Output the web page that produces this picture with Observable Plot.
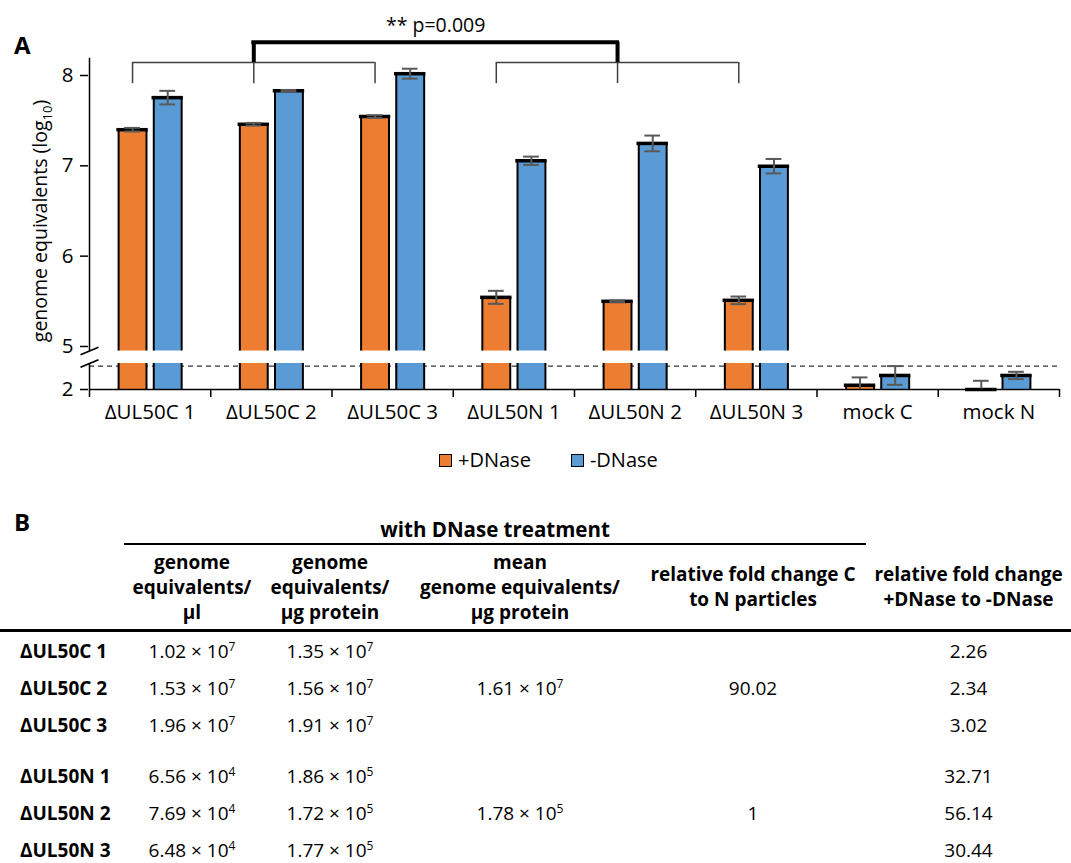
<!DOCTYPE html>
<html><head><meta charset="utf-8">
<script src="https://cdn.jsdelivr.net/npm/d3@7"></script>
<script src="https://cdn.jsdelivr.net/npm/@observablehq/plot@0.6"></script>
<style>
body{margin:0;background:#fff;font-family:"Open Sans",Lato,sans-serif;color:#000;}
#wrap{position:relative;width:1071px;height:863px;overflow:hidden;}
#chart{position:absolute;left:0;top:0;}
.panel{position:absolute;font-weight:bold;font-size:24px;line-height:28px;}
#ylab{position:absolute;left:-140px;top:207px;width:360px;height:28px;line-height:28px;text-align:center;font-size:19.5px;transform:rotate(-90deg);transform-origin:50% 50%;white-space:nowrap;}
#ylab sub{font-size:13px;vertical-align:-5px;line-height:0;}
#legend{position:absolute;left:439px;top:447px;display:flex;align-items:center;font-size:20px;line-height:26px;}
#legend .sw{display:inline-block;width:11px;height:11px;border:1.5px solid #000;margin-right:6px;}
#legend .item{display:flex;align-items:center;margin-right:40px;}
table{position:absolute;left:0;top:508px;width:1071px;border-collapse:collapse;table-layout:fixed;font-size:19px;}
td,th{padding:0;text-align:center;vertical-align:middle;}
th{font-weight:bold;line-height:25px;}
tr.grp th{height:32px;vertical-align:bottom;line-height:22px;padding-bottom:3px;}
tr.grp th.ul{border-bottom:2px solid #000;font-size:20.5px;}
tr.hdr th{height:84px;border-bottom:3px solid #000;}
tr.row td{height:37px;}
tr.row td.lab{text-align:left;padding-left:20px;font-weight:bold;}
tr.sp td{height:14px;}
sup{font-size:12px;vertical-align:7px;line-height:0;}
</style></head><body><div id="wrap"></div>
<script>
// ---------- chart data ----------
const categories = ["ΔUL50C 1","ΔUL50C 2","ΔUL50C 3","ΔUL50N 1","ΔUL50N 2","ΔUL50N 3","mock C","mock N"];
const treatments = ["+DNase","-DNase"];
const plusDNase  = [7.40, 7.46, 7.545, 5.544, 5.50, 5.511, 2.165, 2.0];
const plusErr    = [0.02, 0.015, 0.015, 0.072, 0.01, 0.042, 0.30, 0.335];
const minusDNase = [7.755, 7.83, 8.02, 7.056, 7.248, 6.996, 2.54, 2.54];
const minusErr   = [0.075, 0.01, 0.055, 0.046, 0.087, 0.08, 0.36, 0.14];
const yTicks = [2, 5, 6, 7, 8];
const detectionLimit = 2.9;
const comparisonGroups = [[0,1,2],[3,4,5]];
const comparisonLabel = "** p=0.009";

// ---------- table data ----------
const tableRows = ["ΔUL50C 1","ΔUL50C 2","ΔUL50C 3","ΔUL50N 1","ΔUL50N 2","ΔUL50N 3"];
const gePerUl = [[1.02,7],[1.53,7],[1.96,7],[6.56,4],[7.69,4],[6.48,4]];
const gePerUg = [[1.35,7],[1.56,7],[1.91,7],[1.86,5],[1.72,5],[1.77,5]];
const meanGePerUg = [[1.61,7],[1.78,5]];
const foldCtoN = ["90.02","1"];
const foldDNase = ["2.26","2.34","3.02","32.71","56.14","30.44"];

// ---------- layout constants ----------
const yMin = 2, breakLow = 3, breakHigh = 4.95, yMax = 8, yAxisTop = 8.19;
const colors = ["#ED7D31", "#5B9BD5"];
const barOff = [[-0.26,-0.03],[0.03,0.26]];
const capHalf = 0.065;
// broken axis: piecewise mapping of the value to a continuous position
const brk = d3.scaleLinear().domain([yMin, breakLow, breakHigh, yMax]).range([0, 26, 38.5, 314]);

const bars = categories.flatMap((c, i) => treatments.map((t, k) => {
  const v = k === 0 ? plusDNase[i] : minusDNase[i];
  const e = k === 0 ? plusErr[i] : minusErr[i];
  const x1 = i + 0.5 + barOff[k][0], x2 = i + 0.5 + barOff[k][1];
  return {cat: c, i, t, v, e, x1, x2, xc: (x1 + x2) / 2, lo: Math.max(yMin, v - e), hi: v + e};
}));
const pieces = bars.flatMap(b => {
  const p = [{...b, y1: yMin, y2: Math.min(b.v, breakLow)}];
  if (b.v > breakHigh) p.push({...b, y1: breakHigh, y2: b.v});
  return p;
});
const sides = pieces.flatMap(p => [{x: p.x1, y1: p.y1, y2: p.y2}, {x: p.x2, y1: p.y1, y2: p.y2}]);
const lowCaps = bars.filter(b => b.v - b.e > yMin);
const orangeX = i => bars.find(b => b.i === i && b.t === treatments[0]).xc;

const yThin = 8.144, yThinDrop = 7.91, yThick = 8.367, yText = 8.556;
const thinH = comparisonGroups.map(g => ({x1: orangeX(g[0]), x2: orangeX(g[g.length - 1])}));
const thinV = comparisonGroups.flat().map(i => ({x: orangeX(i)}));
const mids = comparisonGroups.map(g => orangeX(g[Math.floor(g.length / 2)]));

const slash = {draw(ctx, size) { const r = Math.sqrt(size / Math.PI); ctx.moveTo(-r, r * 0.42); ctx.lineTo(r, -r * 0.42); }};

const chart = Plot.plot({
  width: 1071, height: 430,
  marginLeft: 88, marginRight: 12, marginTop: 0, marginBottom: 41,
  style: {fontFamily: "'Open Sans', sans-serif", color: "#000", background: "transparent"},
  x: {domain: [0, categories.length], range: [89, 1059]},
  y: {transform: brk, domain: [brk(yMin), brk(yMax)], range: [389, 75]},
  color: {domain: treatments, range: colors},
  marks: [
    Plot.ruleY([detectionLimit], {x1: 0, x2: categories.length, stroke: "#333", strokeWidth: 1.2, strokeDasharray: "5,4"}),
    Plot.rect(pieces, {x1: "x1", x2: "x2", y1: "y1", y2: "y2", fill: "t"}),
    Plot.ruleX(sides, {x: "x", y1: "y1", y2: "y2", stroke: "#000", strokeWidth: 2}),
    Plot.ruleY(bars, {y: "v", x1: "x1", x2: "x2", stroke: "#000", strokeWidth: 3.5, strokeLinecap: "square"}),
    Plot.ruleX(bars, {x: "xc", y1: "lo", y2: "hi", stroke: "#595959", strokeWidth: 2}),
    Plot.ruleY(bars, {y: "hi", x1: d => d.xc - capHalf, x2: d => d.xc + capHalf, stroke: "#595959", strokeWidth: 2}),
    Plot.ruleY(lowCaps, {y: "lo", x1: d => d.xc - capHalf, x2: d => d.xc + capHalf, stroke: "#595959", strokeWidth: 2}),
    // axis lines
    Plot.ruleX([{y1: yMin, y2: breakLow}, {y1: breakHigh, y2: yAxisTop}], {x: 0, y1: "y1", y2: "y2", stroke: "#000", strokeWidth: 1.5}),
    Plot.ruleY([yMin], {x1: 0, x2: categories.length, stroke: "#000", strokeWidth: 1.5}),
    Plot.dot([breakHigh, breakLow], {x: 0, y: d => d, symbol: slash, r: 9, stroke: "#000", strokeWidth: 1.8, fill: "none"}),
    // axis ticks are given in the scale's transformed space and labelled with the original values
    Plot.axisY({ticks: yTicks.map(brk), tickSize: 8, tickPadding: 7, fontSize: 20.5, label: null, tickFormat: d => String(Math.round(brk.invert(d))), strokeWidth: 1.5}),
    Plot.axisX({ticks: d3.range(categories.length + 1), tickSize: 8, tickFormat: () => "", label: null, strokeWidth: 1.5}),
    Plot.axisX({ticks: categories.map((c, i) => i + 0.5), tickSize: 0, tickPadding: 15, fontSize: 20.5, label: null, tickFormat: d => categories[Math.floor(d)]}),
    // significance brackets
    Plot.ruleY(thinH, {y: yThin, x1: "x1", x2: "x2", stroke: "#404040", strokeWidth: 1.5}),
    Plot.ruleX(thinV, {x: "x", y1: yThinDrop, y2: yThin, stroke: "#404040", strokeWidth: 1.5}),
    Plot.ruleY([{x1: mids[0], x2: mids[1]}], {y: yThick, x1: "x1", x2: "x2", stroke: "#000", strokeWidth: 4, strokeLinecap: "square"}),
    Plot.ruleX(mids, {x: d => d, y1: yThin, y2: yThick, stroke: "#000", strokeWidth: 4}),
    Plot.text([comparisonLabel], {x: (mids[0] + mids[1]) / 2, y: yText, text: d => d, fontSize: 19.5, fill: "#000"})
  ]
});
chart.id = "chart";
const wrap = document.getElementById("wrap");
wrap.appendChild(chart);

const add = html => wrap.insertAdjacentHTML("beforeend", html);
add(`<div class="panel" style="left:14px;top:31px;">A</div>`);
add(`<div id="ylab">genome equivalents (log<sub>10</sub>)</div>`);
add(`<div id="legend">${treatments.map((t, k) => `<span class="item"><span class="sw" style="background:${colors[k]}"></span>${t}</span>`).join("")}</div>`);
add(`<div class="panel" style="left:14px;top:508px;">B</div>`);

const sci = ([m, e]) => `${m.toFixed(2)} × 10<sup>${e}</sup>`;
let rows = "";
tableRows.forEach((r, j) => {
  if (j === 3) rows += `<tr class="sp"><td colspan="6"></td></tr>`;
  const mid = j === 1 ? 0 : j === 4 ? 1 : -1;
  rows += `<tr class="row"><td class="lab">${r}</td><td>${sci(gePerUl[j])}</td><td>${sci(gePerUg[j])}</td>` +
    `<td>${mid >= 0 ? sci(meanGePerUg[mid]) : ""}</td><td>${mid >= 0 ? foldCtoN[mid] : ""}</td><td>${foldDNase[j]}</td></tr>`;
});
add(`<table>
<colgroup><col style="width:124px"><col style="width:136px"><col style="width:140px"><col style="width:240px"><col style="width:226px"><col style="width:205px"></colgroup>
<tr class="grp"><th></th><th class="ul" colspan="4">with DNase treatment</th><th></th></tr>
<tr class="hdr"><th></th><th>genome<br>equivalents/<br>µl</th><th>genome<br>equivalents/<br>µg protein</th><th>mean<br>genome equivalents/<br>µg protein</th><th>relative fold change C<br>to N particles</th><th>relative fold change<br>+DNase to -DNase</th></tr>
${rows}
</table>`);
</script></body></html>
